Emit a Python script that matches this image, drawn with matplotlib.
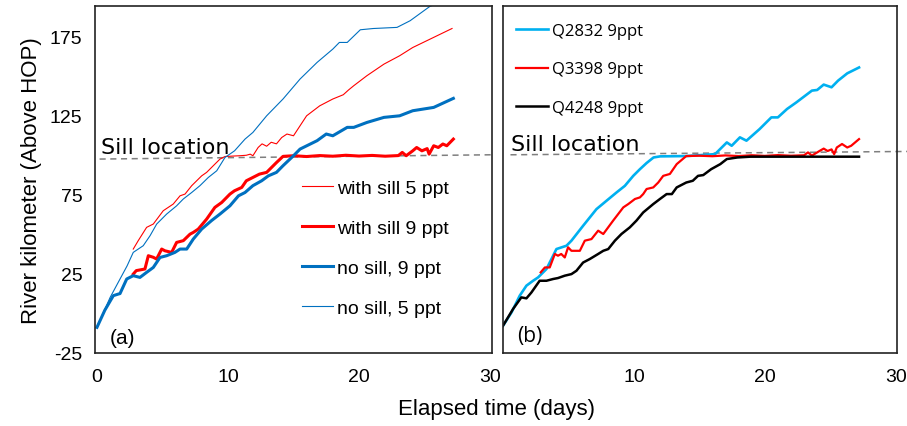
import matplotlib
matplotlib.use("Agg")
import matplotlib.pyplot as plt

plt.rcParams['font.family'] = ['Liberation Sans', 'DejaVu Sans']
plt.rcParams['axes.unicode_minus'] = False

# ---- panel (a): with / without sill --------------------------------------
nosill5_days = [0, 1.0, 1.76, 2.3, 2.77, 3.53, 4.05, 4.56, 5.32, 6.08, 6.59, 7.23, 7.86, 8.5, 9.14,
                9.77, 10.5, 11.3, 11.9, 12.95, 14.2, 15.5, 16.8, 18.0, 18.5, 19.1, 20.1, 21.1, 22.9,
                23.9, 25.4, 27.2]
nosill5_km = [-8.8, 10, 21.7, 30, 38.5, 42.7, 49, 56.4, 62.7, 67.9, 72.2, 76.3, 80.6, 85.8, 90,
              98.4, 102.6, 110, 114.2, 124.7, 135.3, 147.9, 158.4, 166.8, 171, 171, 179, 179.8, 180.5,
              184.7, 193.7, 200]

nosill9_days = [0, 0.6, 1.25, 1.63, 1.76, 2.27, 2.77, 3.28, 3.79, 4.3, 4.81, 5.32, 5.95, 6.34, 6.85,
                7.35, 7.99, 8.75, 9.39, 10.15, 10.8, 11.3, 11.9, 12.57, 13.08, 13.7, 14.2, 15.0, 15.5,
                16.8, 17.5, 18.0, 19.1, 19.6, 20.6, 21.9, 23.1, 24.1, 25.7, 27.2]
nosill9_km = [-8.8, 2, 11.2, 12.2, 12.5, 21.7, 23.8, 22.7, 25.9, 29, 35.3, 36.4, 38.5, 40.6, 40.6,
              46.9, 53.2, 58.6, 62.7, 67.9, 74.2, 76.3, 80.6, 83.7, 86.8, 89, 93.2, 99.5, 103.7,
              109, 113.2, 112.1, 117.4, 117.4, 120.5, 123.7, 124.7, 127.9, 130, 135.7]

sill5_days = [2.77, 3.15, 3.79, 4.3, 5.06, 5.82, 6.34, 6.72, 7.23, 7.99, 8.37, 9.0, 9.39, 9.77, 10.4,
              10.9, 11.4, 11.7, 11.9, 12.3, 12.6, 12.95, 13.3, 13.7, 14.1, 14.5, 15.0, 16.0, 17.0,
              18.0, 18.8, 19.2, 19.6, 20.6, 21.9, 23.1, 24.1, 25.7, 27.1]
sill5_km = [40.6, 45.9, 54.3, 56.4, 64.8, 69, 74.2, 75.3, 80.6, 86.8, 89, 94.2, 97.4, 99, 99.3,
            99.5, 99.8, 100.5, 99.5, 104.7, 107, 105.5, 108, 107, 111, 113.2, 112.1, 124.7, 131,
            135.3, 138, 141, 143.7, 150, 157.3, 162.6, 167.8, 174.2, 179.8]

sill9_days = [2.77, 3.0, 3.66, 3.92, 4.3, 4.55, 4.94, 5.19, 5.7, 6.08, 6.59, 7.1, 7.35, 7.73, 8.37,
              9.0, 9.52, 10.15, 10.5, 11.05, 11.4, 11.9, 12.4, 12.95, 13.7, 14.2, 15, 16, 17, 18, 19,
              20, 21, 22, 23, 23.3, 23.6, 24.1, 24.4, 24.8, 25.2, 25.35, 25.7, 26.05, 26.4, 26.7, 27.2]
sill9_km = [24.8, 27, 28, 36.4, 35.4, 34.3, 40.6, 39.5, 38.5, 44.8, 45.9, 50, 51.1, 53.2, 59.5,
            66.9, 70, 75.3, 77.4, 79.5, 83.7, 85.8, 87.9, 89, 95.2, 99.1, 99.5, 99, 99.6, 99.2, 99.8,
            99.3, 99.7, 99.2, 99.6, 101.6, 99.5, 102.6, 104.7, 102.6, 104, 100.5, 105.8, 104.7, 106.9,
            105.8, 110]

sill_a_days = [0.2, 30.1]
sill_a_km = [97.4, 100.1]

# ---- panel (b): discharge runs, 9 ppt ------------------------------------
q2832_days = [0, 0.65, 1.28, 1.79, 2.3, 2.68, 3.32, 3.83, 4.08, 4.85, 5.23, 6.12, 7.14, 7.91, 8.67,
              9.31, 9.95, 10.46, 10.97, 11.5, 12.0, 14, 16.2, 17.1, 17.47, 18.1, 18.6, 19.6, 20.5,
              21.0, 21.7, 22.4, 23.6, 24.0, 24.5, 25.1, 25.6, 26.3, 27.2]
q2832_km = [-7.8, 0.6, 11.2, 17.5, 20.6, 22.7, 28, 36.4, 40.6, 42.7, 45.9, 55.3, 65.8, 71.1, 76.3,
            80.5, 86.8, 91, 94.9, 98.4, 99.1, 99.3, 100.5, 107.9, 105.8, 111.1, 109, 116.3, 123.7,
            123.7, 129, 133.1, 140.6, 141, 144.4, 142.7, 146.9, 151.5, 155.2]

q3398_days = [2.88, 3.2, 3.57, 3.96, 4.2, 4.45, 4.72, 4.97, 5.23, 5.87, 6.25, 6.76, 7.27, 7.66, 8.42,
              9.19, 9.57, 10.08, 10.46, 10.71, 10.97, 11.48, 11.86, 12.24, 12.75, 13.27, 14.0, 15, 16,
              17, 18, 19, 20, 21, 22, 23, 23.3, 23.6, 24.2, 24.5, 24.8, 25.1, 25.3, 25.5, 25.9, 26.3,
              26.6, 27.2]
q3398_km = [25.9, 29, 29, 37.5, 36.4, 37.5, 35.3, 41.7, 39.5, 39.5, 45.9, 46.9, 52.2, 50.1, 58.6,
            66.9, 69, 72.2, 73.2, 75.3, 78.5, 79.5, 82.6, 86.8, 88, 94.2, 99.3, 99.5, 99.2, 99.7,
            99.3, 99.8, 99.4, 99.9, 99.5, 99.8, 101.6, 99.6, 102.6, 104, 102.5, 103.5, 100.5, 104.7,
            106.9, 104.7, 105.8, 110]

q4248_days = [0, 0.77, 1.4, 1.79, 2.17, 2.8, 3.32, 3.83, 4.2, 4.72, 5.23, 5.61, 6.12, 6.63, 7.27,
              7.66, 8.04, 8.55, 9.05, 9.69, 10.2, 10.71, 11.48, 11.99, 12.5, 12.9, 13.27, 14.0, 14.5,
              14.9, 15.3, 15.9, 16.6, 17.1, 17.9, 18.9, 27.2]
q4248_km = [-7.8, 2.8, 10.1, 9.5, 13.2, 20.6, 20.6, 21.7, 22.3, 23.8, 24.8, 26.9, 32.1, 34.3, 37.5,
            39.5, 40.6, 45.9, 50.1, 54.3, 58.6, 63.7, 69, 72.2, 75.3, 75.3, 79.5, 82.6, 83.7,
            86.8, 87.3, 91, 94.2, 97.4, 98.4, 98.9, 98.9]

sill_b_days = [0.57, 30.9]
sill_b_km = [100.1, 102.2]

W, H = 907, 427
fig = plt.figure(figsize=(W / 100, H / 100), dpi=100)
ax = fig.add_axes([95 / W, 1 - 354 / H, 397 / W, 347 / H])
ax2 = fig.add_axes([503 / W, 1 - 354 / H, 394 / W, 347 / H])

blue = "#0070C0"
red = "#FF0000"
lblue = "#00B0F0"
dash_col = "#7f7f7f"

#---------------------------------------------------------------------------
ax.plot(sill_a_days, sill_a_km, color=dash_col, linestyle=(0, (4, 3)), linewidth=1.1)
ax.plot(sill5_days, sill5_km, color=red, linewidth=0.8, label="with sill 5 ppt")
ax.plot(sill9_days, sill9_km, color=red, linewidth=2.2, label="with sill 9 ppt")
ax.plot(nosill9_days, nosill9_km, color=blue, linewidth=2.2, label="no sill, 9 ppt")
ax.plot(nosill5_days, nosill5_km, color=blue, linewidth=0.8, label="no sill, 5 ppt")

ax.set_xlim(-0.15, 30.15)
ax.set_ylim(-25, 194)
ax.set_xticks([0, 10, 20, 30])
ax.set_yticks([-25, 25, 75, 125, 175])
ax.tick_params(length=0, labelsize=14)
ax.tick_params(axis="y", pad=9)
ax.tick_params(axis="x", pad=11)
ax.set_ylabel("River kilometer (Above HOP)", fontsize=16, labelpad=6)
ax.text(0.3, 105, "Sill location", fontsize=16, family="DejaVu Sans", va="center", ha="left")
ax.text(0.038, 0.046, "(a)", transform=ax.transAxes, fontsize=15, va="center", ha="left")

ax.legend(loc="upper left", bbox_to_anchor=(302 / W, 1 - 180 / H),
          bbox_transform=fig.transFigure, frameon=False, fontsize=14,
          handlelength=1.6, handletextpad=0.2, labelspacing=1.15,
          borderpad=0, borderaxespad=0)

#---------------------------------------------------------------------------
ax2.plot(sill_b_days, sill_b_km, color=dash_col, linestyle=(0, (4, 3)), linewidth=1.1, clip_on=False)
ax2.plot(q2832_days, q2832_km, color=lblue, linewidth=1.9, label="Q2832 9ppt")
ax2.plot(q3398_days, q3398_km, color=red, linewidth=1.6, label="Q3398 9ppt")
ax2.plot(q4248_days, q4248_km, color="black", linewidth=1.8, label="Q4248 9ppt")

ax2.set_xlim(0, 30.1)
ax2.set_ylim(-25, 194)
ax2.set_xticks([10, 20, 30])
ax2.set_yticks([])
ax2.tick_params(length=0, labelsize=14, pad=11)
ax2.text(0.62, 106.6, "Sill location", fontsize=16, family="DejaVu Sans", va="center", ha="left")
ax2.text(0.036, 0.049, "(b)", transform=ax2.transAxes, fontsize=15, family="Open Sans",
         va="center", ha="left")
ax2.legend(loc="upper left", bbox_to_anchor=(516 / W, 1 - 24 / H),
           bbox_transform=fig.transFigure, frameon=False, prop={"family": "Open Sans", "size": 12},
           handlelength=1.9, handletextpad=0.25, labelspacing=1.34,
           borderpad=0, borderaxespad=0)

for a in (ax, ax2):
    for s in a.spines.values():
        s.set_linewidth(1.2)
        s.set_color("#222222")

fig.text(497 / W, 1 - 410 / H, "Elapsed time (days)", fontsize=16, ha="center", va="center")

fig.savefig("out.png", dpi=100)
